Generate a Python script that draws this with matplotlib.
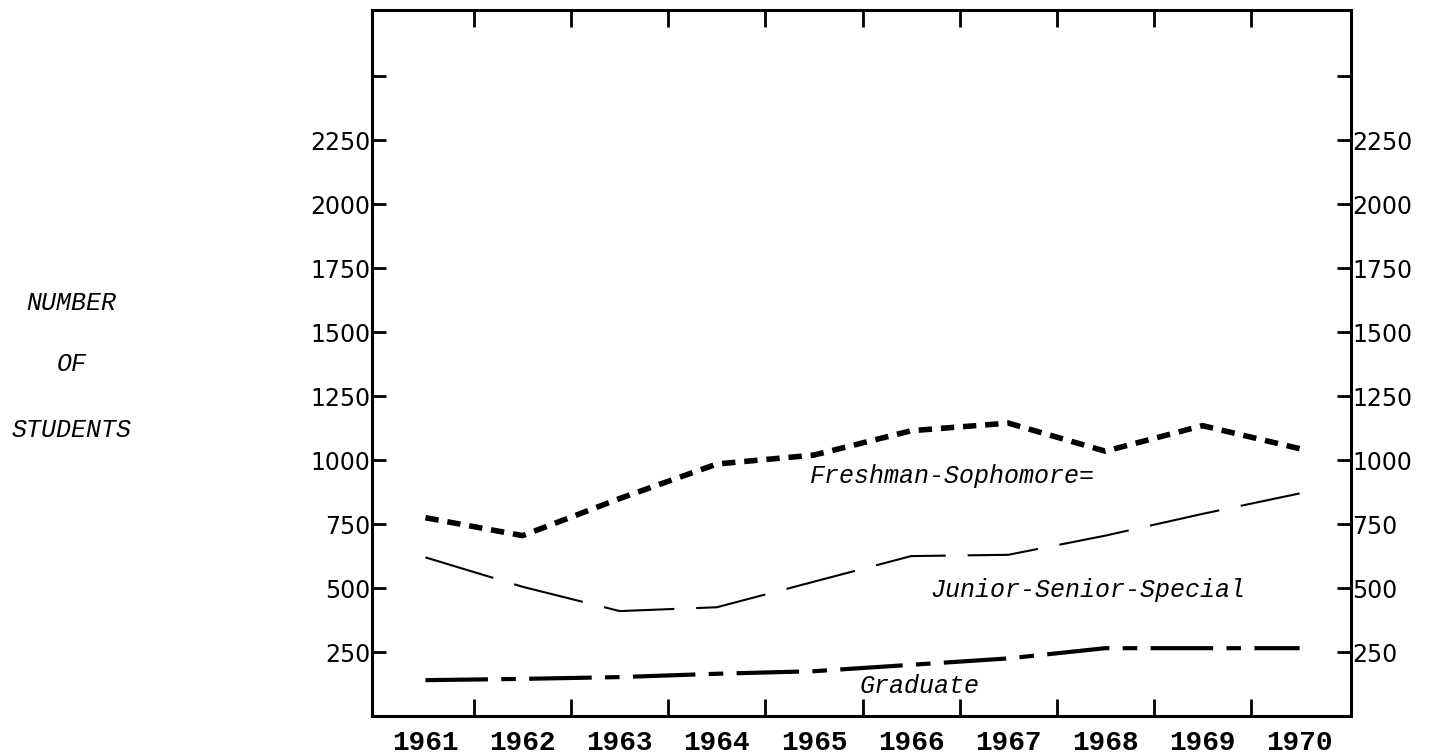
import matplotlib
matplotlib.use("Agg")
import matplotlib.pyplot as plt
from matplotlib.ticker import FixedLocator, NullFormatter

# enrolment by class level
years = [1961, 1962, 1963, 1964, 1965, 1966, 1967, 1968, 1969, 1970]
freshman_sophomore = [775, 705, 850, 985, 1020, 1115, 1145, 1035, 1135, 1045]
junior_senior_special = [620, 505, 410, 425, 525, 625, 630, 705, 790, 870]
graduate = [140, 145, 152, 165, 175, 200, 225, 265, 265, 265]

y_ticks = [250, 500, 750, 1000, 1250, 1500, 1750, 2000, 2250, 2500]
y_labels = ["250", "500", "750", "1000", "1250", "1500", "1750", "2000", "2250", ""]

fig = plt.figure(figsize=(14.32, 7.55), dpi=100)
ax = fig.add_axes([0.2598, 0.0517, 0.6837, 0.9351])

ax.plot(years, freshman_sophomore, color="black", lw=4.0, dashes=(2.4, 1.6))
ax.plot(years, junior_senior_special, color="black", lw=1.5, dashes=(34, 10.5))
ax.plot(years, graduate, color="black", lw=3.0, dashes=(15, 3.2, 3.5, 3.2))

ax.set_xlim(1960.45, 1970.53)
ax.set_ylim(0, 2760)

# y axis: ticks inward, labels on both sides
ax.set_yticks(y_ticks)
ax.set_yticklabels(y_labels)
ax.tick_params(axis="y", direction="in", length=10, width=2, pad=1,
               left=True, right=True, labelleft=True, labelright=True,
               labelsize=17)
for lab in ax.get_yticklabels():
    lab.set_family("DejaVu Sans")

# x axis: year labels at the years, tick marks between them
ax.set_xticks(years)
ax.set_xticklabels([str(y) for y in years], family="Liberation Mono",
                   fontsize=20, fontweight="bold")
ax.tick_params(axis="x", which="major", length=0, pad=10)
ax.xaxis.set_minor_locator(FixedLocator([y + 0.5 for y in years[:-1]]))
ax.xaxis.set_minor_formatter(NullFormatter())
ax.tick_params(axis="x", which="minor", direction="in", length=12, width=2,
               top=True, bottom=True)

for s in ax.spines.values():
    s.set_linewidth(2.2)

lab_font = dict(family="Liberation Mono", style="italic", fontsize=18,
                ha="center", va="center")
ax.text(1966.43, 937, "Freshman-Sophomore=", **lab_font)
ax.text(1967.82, 492, "Junior-Senior-Special", **lab_font)
ax.text(1966.09, 117, "Graduate", **lab_font)

fig.text(0.050, 0.599, "NUMBER", **lab_font)
fig.text(0.050, 0.518, "OF", **lab_font)
fig.text(0.050, 0.430, "STUDENTS", **lab_font)

fig.savefig("out.png", dpi=100)
